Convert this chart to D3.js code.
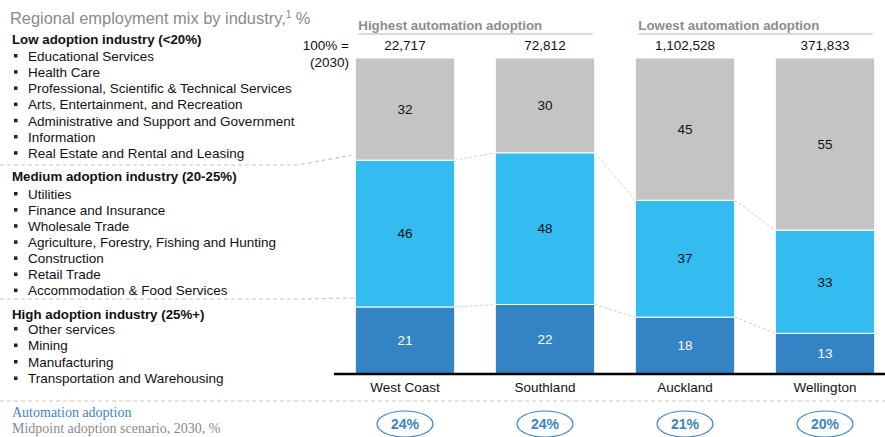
<!DOCTYPE html>
<html>
<head>
<meta charset="utf-8">
<script src="https://cdn.jsdelivr.net/npm/d3@7"></script>
<style>
  html, body { margin: 0; padding: 0; background: #fff; }
  svg { display: block; font-family: "Liberation Sans", Arial, sans-serif; }
</style>
</head>
<body>
<svg id="chart" width="885" height="437"></svg>
<script>
// ---------- data ----------
const regions = ["West Coast", "Southland", "Auckland", "Wellington"];
const totals2030 = ["22,717", "72,812", "1,102,528", "371,833"];
const highAdoption = [21, 22, 18, 13];
const mediumAdoption = [46, 48, 37, 33];
const lowAdoption = [32, 30, 45, 55];
const automationAdoption = ["24%", "24%", "21%", "20%"];
const groupLabels = ["Highest automation adoption", "Lowest automation adoption"];
const groupMembers = [["West Coast", "Southland"], ["Auckland", "Wellington"]];

const lowIndustries = ["Educational Services", "Health Care", "Professional, Scientific & Technical Services",
  "Arts, Entertainment, and Recreation", "Administrative and Support and Government", "Information",
  "Real Estate and Rental and Leasing"];
const mediumIndustries = ["Utilities", "Finance and Insurance", "Wholesale Trade",
  "Agriculture, Forestry, Fishing and Hunting", "Construction", "Retail Trade", "Accommodation & Food Services"];
const highIndustries = ["Other services", "Mining", "Manufacturing", "Transportation and Warehousing"];

// ---------- setup ----------
const svg = d3.select("#chart");
const FS = 13.5;
const keys = ["high", "medium", "low"];
const colors = { high: "#3484c5", medium: "#34bcf1", low: "#c4c4c4" };
const labelColors = { high: "#ffffff", medium: "#111111", low: "#111111" };

const rows = regions.map((r, i) => ({ region: r, high: highAdoption[i], medium: mediumAdoption[i], low: lowAdoption[i] }));
const stack = d3.stack().keys(keys).offset(d3.stackOffsetExpand);
const series = stack(rows);

const x = d3.scaleBand().domain(regions).range([335, 895]).paddingInner(0.29).paddingOuter(0.145);
const y = d3.scaleLinear().domain([0, 1]).range([374, 58]);

// ---------- left text ----------
const left = svg.append("g");
left.append("text").attr("x", 10).attr("y", 24).attr("font-size", 16.4).attr("fill", "#8a8a8a")
  .text("Regional employment mix by industry,")
  .append("tspan").attr("font-size", 10).attr("dy", -6).text("1")
  .clone(true).attr("font-size", 16.4).attr("dy", 6).text(" %");

function section(title, items, headY, firstY, step) {
  left.append("text").attr("x", 12).attr("y", headY).attr("font-size", 13.3).attr("font-weight", "bold")
    .attr("fill", "#111").text(title);
  items.forEach((t, i) => {
    const cy = firstY + i * step;
    left.append("rect").attr("x", 14).attr("y", cy - 2).attr("width", 3.5).attr("height", 3.5).attr("fill", "#222");
    left.append("text").attr("x", 28).attr("y", cy + 4.8).attr("font-size", FS).attr("fill", "#111").text(t);
  });
}
section("Low adoption industry (<20%)", lowIndustries, 44, 56, 16.2);
section("Medium adoption industry (20-25%)", mediumIndustries, 181, 194, 16.1);
section("High adoption industry (25%+)", highIndustries, 319, 329, 16.5);

// dashed separators with connectors
const dashStyle = sel => sel.attr("fill", "none").attr("stroke", "#c8c8c8").attr("stroke-width", 1.2).attr("stroke-dasharray", "4,3");
const firstX = x(regions[0]);
const line = d3.line();
svg.append("path").call(dashStyle)
  .attr("d", line([[0, 165], [298, 165], [firstX - 4, y(series[2][0][0]) - 5]]));
svg.append("path").call(dashStyle)
  .attr("d", line([[0, 299], [298, 299], [firstX, y(series[1][0][0]) - 9]]));
svg.append("path").call(dashStyle)
  .attr("d", line([[0, 401], [885, 401]]));

// ---------- group headers ----------
groupLabels.forEach((g, i) => {
  const x0 = x(groupMembers[i][0]) + 3;
  const x1 = x(groupMembers[i][1]) + x.bandwidth() - 2;
  svg.append("text").attr("x", x0).attr("y", 30).attr("font-size", 13.3).attr("font-weight", "bold")
    .attr("fill", "#8c8c8c").text(g);
  svg.append("line").attr("x1", x0).attr("x2", x1).attr("y1", 34).attr("y2", 34)
    .attr("stroke", "#d9d9d9").attr("stroke-width", 2);
});

// totals
svg.append("text").attr("x", 349).attr("y", 50).attr("text-anchor", "end").attr("font-size", FS).attr("fill", "#111").text("100% =");
svg.append("text").attr("x", 349).attr("y", 67).attr("text-anchor", "end").attr("font-size", FS).attr("fill", "#111").text("(2030)");
svg.append("g").selectAll("text").data(regions).join("text")
  .attr("x", d => x(d) + x.bandwidth() / 2).attr("y", 50).attr("text-anchor", "middle")
  .attr("font-size", FS).attr("fill", "#111").text((d, i) => totals2030[i]);

// ---------- connector lines between bars ----------
const conn = svg.append("g");
[0, 1].forEach(si => {
  for (let i = 0; i < regions.length - 1; i++) {
    const a = series[si][i], b = series[si][i + 1];
    conn.append("line")
      .attr("x1", x(regions[i]) + x.bandwidth()).attr("y1", y(a[1]))
      .attr("x2", x(regions[i + 1])).attr("y2", y(b[1]))
      .attr("stroke", "#d0d0d0").attr("stroke-width", 1).attr("stroke-dasharray", "3,2");
  }
});

// ---------- bars ----------
const barG = svg.append("g");
series.forEach(s => {
  const k = s.key;
  barG.append("g").selectAll("rect").data(s).join("rect")
    .attr("x", d => x(d.data.region))
    .attr("y", d => y(d[1]))
    .attr("width", x.bandwidth())
    .attr("height", d => y(d[0]) - y(d[1]))
    .attr("fill", colors[k])
    .attr("stroke", "#ffffff").attr("stroke-width", 1);
  barG.append("g").selectAll("text").data(s).join("text")
    .attr("x", d => x(d.data.region) + x.bandwidth() / 2)
    .attr("y", d => (y(d[0]) + y(d[1])) / 2 + 4.8)
    .attr("text-anchor", "middle").attr("font-size", FS)
    .attr("fill", labelColors[k])
    .text(d => d.data[k]);
});

// baseline axis
const xAxis = d3.axisBottom(x).tickSize(0).tickPadding(8);
const ax = svg.append("g").attr("transform", "translate(0,374)").call(xAxis);
ax.select(".domain").attr("d", "M334,0H885").attr("stroke", "#000").attr("stroke-width", 2.5);
ax.selectAll(".tick text").attr("font-size", FS).attr("fill", "#111")
  .attr("font-family", "Liberation Sans, Arial, sans-serif").attr("dy", "0.71em");

// ---------- automation adoption row ----------
svg.append("text").attr("x", 12).attr("y", 417).attr("fill", "#3d85c6")
  .attr("font-family", "Liberation Serif, Georgia, serif").attr("font-size", 14).text("Automation adoption");
svg.append("text").attr("x", 12).attr("y", 433).attr("fill", "#8a8a8a")
  .attr("font-family", "Liberation Serif, Georgia, serif").attr("font-size", 14).text("Midpoint adoption scenario, 2030, %");

const ell = svg.append("g").selectAll("g").data(regions).join("g")
  .attr("transform", d => `translate(${x(d) + x.bandwidth() / 2},424)`);
ell.append("ellipse").attr("rx", 28).attr("ry", 13).attr("fill", "none").attr("stroke", "#3d85c6").attr("stroke-width", 1.2);
ell.append("text").attr("text-anchor", "middle").attr("y", 5).attr("font-size", 14).attr("font-weight", "bold")
  .attr("fill", "#3d85c6").text((d, i) => automationAdoption[i]);
</script>
</body>
</html>
